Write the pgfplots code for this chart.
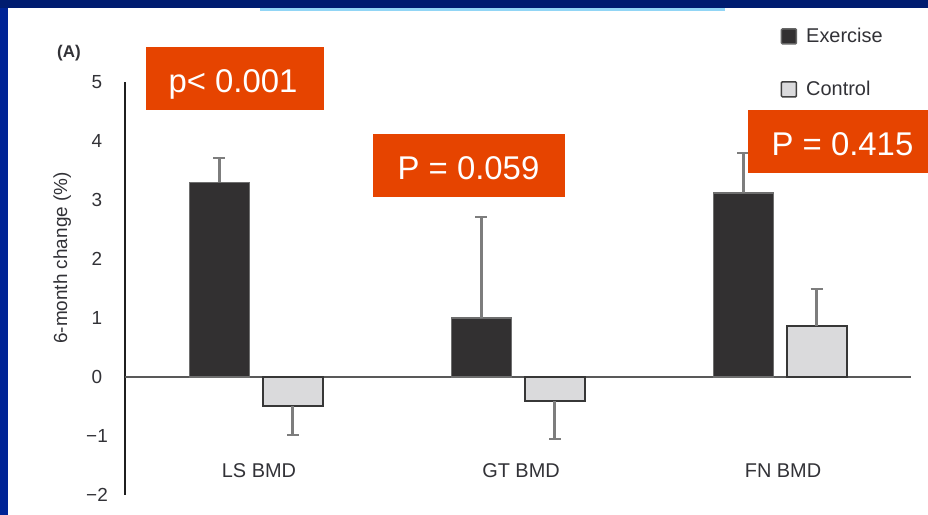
\documentclass[border=0pt]{standalone}
\usepackage{pgfplots}
\pgfplotsset{compat=1.18}
\usepackage{fontspec}
\setmainfont{Liberation Sans}
\definecolor{navyT}{RGB}{0,28,112}
\definecolor{navyL}{RGB}{0,36,150}
\definecolor{lblue}{RGB}{145,213,245}
\definecolor{orng}{RGB}{230,68,0}
\definecolor{exfill}{RGB}{50,48,49}
\definecolor{exdraw}{RGB}{110,110,110}
\definecolor{ctfill}{RGB}{218,218,220}
\definecolor{ctdraw}{RGB}{55,55,55}
\definecolor{errc}{RGB}{125,125,125}
\definecolor{txt}{RGB}{50,50,55}
\pgfplotsset{
  myerr/.style={
    error bars/error bar style={draw=errc, line width=3bp},
    error bars/error mark=|,
    error bars/error mark options={draw=errc, line width=2.5bp, mark size=6bp, rotate=0},
  }
}
\begin{document}
\begin{tikzpicture}[x=1bp,y=1bp]
\useasboundingbox (0,0) rectangle (928,515);
\fill[navyL] (0,0) rectangle (928,515);
\fill[navyT] (0,507) rectangle (928,515);
\fill[white] (8,0) rectangle (928,507);
\fill[lblue] (260,504) rectangle (725,507);
\begin{axis}[
  at={(125bp,20bp)}, anchor=south west,
  scale only axis, width=786bp, height=413bp,
  xmin=-0.5, xmax=2.5, ymin=-2, ymax=5,
  axis lines*=left,
  x axis line style={draw=none},
  y axis line style={line width=2.4bp, color=black!88},
  major tick length=0pt,
  /pgf/number format/assume math mode=true,
  xtick={0,1,2}, xticklabels={LS BMD, GT BMD, FN BMD},
  ytick={-2,-1,0,1,2,3,4,5}, yticklabels={−2,−1,0,1,2,3,4,5},
  xticklabel style={anchor=center, yshift=24bp, xshift=3bp, font=\fontsize{20}{22}\selectfont, text=txt},
  yticklabel style={anchor=center, xshift=-28bp, font=\fontsize{19}{21}\selectfont, text=txt},
  ylabel={6-month change (\%)},
  ylabel style={at={(axis description cs:-0.080,0.574)}, anchor=center, font=\fontsize{19}{21}\selectfont, text=txt},
  clip=false,
  legend style={at={(0.834,1.135)}, anchor=north west, draw=none, fill=none,
    font=\fontsize{20}{22}\selectfont, text=txt, row sep=33bp, inner sep=0pt,
    column sep=7bp},
  legend cell align=left,
]
\draw[color=black!65, line width=2bp] (axis cs:-0.5,0) -- (axis cs:2.5,0);
\addplot[ybar, bar width=60bp, bar shift=0pt, fill=exfill, draw=exdraw, line width=1.5bp,
  legend image code/.code={\draw[fill=exfill, draw=black!60, line width=1.5bp, rounded corners=1bp] (0bp,-7.5bp) rectangle (15bp,7.5bp);},
  myerr, error bars/.cd, y dir=plus, y explicit]
  coordinates {(-0.14,3.30) +- (0,0.41) (0.86,1.00) +- (0,1.71) (1.86,3.12) +- (0,0.68)};
\addlegendentry{Exercise}
\addplot[ybar, bar width=60bp, bar shift=0pt, fill=ctfill, draw=ctdraw, line width=1.8bp,
  legend image code/.code={\draw[fill=ctfill, draw=black!75, line width=1.5bp, rounded corners=1bp] (0bp,-7.5bp) rectangle (15bp,7.5bp);},
  myerr, error bars/.cd, y dir=minus, y explicit]
  coordinates {(0.14,-0.49) +- (0,0.49) (1.14,-0.41) +- (0,0.64)};
\addlegendentry{Control}
\addplot[forget plot, ybar, bar width=60bp, bar shift=0pt, fill=ctfill, draw=ctdraw, line width=1.8bp,
  myerr, error bars/.cd, y dir=plus, y explicit]
  coordinates {(2.14,0.86) +- (0,0.63)};
\end{axis}
\node[font=\bfseries\fontsize{17}{19}\selectfont, text=txt] at (69,461.5) {(A)};
\fill[orng] (146,405) rectangle (324,468);
\node[anchor=base, text=white, font=\fontsize{33}{36}\selectfont] at (233,422.3) {p< 0.001};
\fill[orng] (373,318) rectangle (565,381);
\node[anchor=base, text=white, font=\fontsize{33}{36}\selectfont] at (468.5,335.7) {P = 0.059};
\fill[orng] (748,342) rectangle (928,405);
\node[anchor=base, text=white, font=\fontsize{33}{36}\selectfont] at (842.5,359) {P = 0.415};
\end{tikzpicture}
\end{document}
